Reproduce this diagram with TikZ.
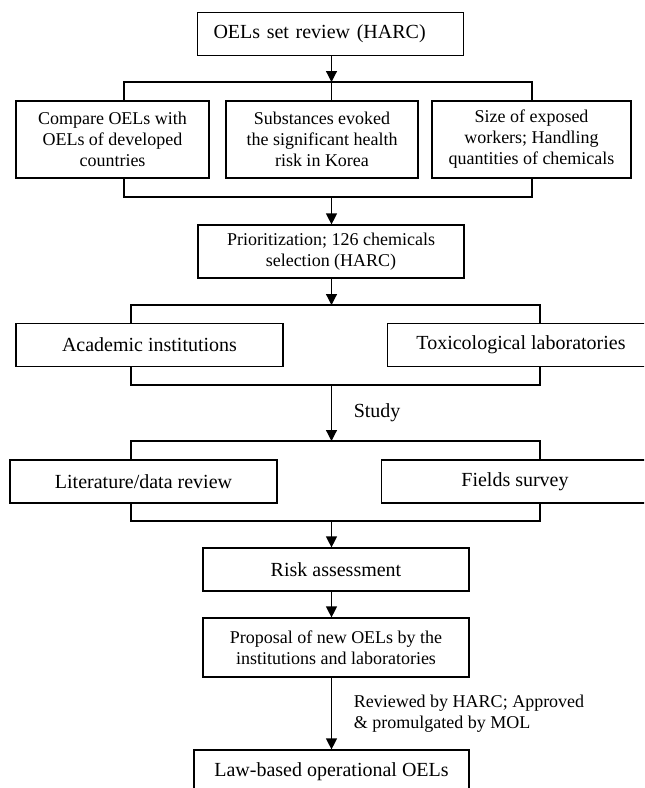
\documentclass[tikz,border=0pt]{standalone}
\usepackage{fontspec}
\setmainfont{Liberation Serif}
\usetikzlibrary{arrows.meta}

\begin{document}
\begin{tikzpicture}[x=0.5pt,y=-0.5pt,line width=0.6pt,font=\fontsize{10}{10.5}\selectfont,
blk/.style n args={2}{draw,rectangle,align=center,inner sep=0pt,minimum width=#1*0.5pt,minimum height=#2*0.5pt},
sml/.style={font=\fontsize{9}{10.5}\selectfont},
arr/.style={-{Triangle[length=5.5pt,width=5.5pt]}}]
\useasboundingbox (0,0) rectangle (644,788);
\clip (0,0) rectangle (644,788);
\node[blk={266}{43},text width=117pt,align=left,inner xsep=8pt] (review) at (330.5,34) {OELs set review (HARC)};
\node[blk={193}{77},sml] (compare) at (112.5,139.5) {Compare OELs with\\OELs of developed\\countries};
\node[blk={192}{77},sml] (korea) at (322,139.5) {Substances evoked\\the significant health\\risk in Korea};
\node[blk={199}{77},sml] (size) at (531.5,139.5) {Size of exposed\\workers; Handling\\quantities of chemicals};
\node[blk={266}{53},sml] (prio) at (331,251.5) {Prioritization; 126 chemicals\\selection (HARC)};
\node[blk={267}{43}] (acad) at (149.5,345) {Academic institutions};
\node[blk={267}{43}] (tox) at (521,345) {Toxicological laboratories};
\node[blk={267}{43}] (lit) at (143.5,481.5) {Literature/data review};
\node[blk={267}{43}] (field) at (515,481.5) {Fields survey};
\node[blk={266}{43}] (risk) at (336,569.5) {Risk assessment};
\node[blk={266}{59},sml] (prop) at (336,647.5) {Proposal of new OELs by the\\institutions and laboratories};
\node[blk={275}{43}] (law) at (331.5,771.5) {Law-based operational OELs};
\coordinate (spine) at (331.5,0);
\foreach \n/\xa/\xb/\y in %
{a/124/532/82,b/124/532/197,c/131/540/305,d/131/540/385,e/131/540/441,f/131/540/521} {
   \coordinate (\n l) at (\xa,\y);
   \coordinate (\n r) at (\xb,\y);
}
\draw[arr] (spine |- review.south) -- (spine |- al);
\draw (al |- compare.north) |- (ar) -- (ar |- size.north);
\draw (spine |- al) -- (spine |- korea.north);
\draw (bl |- compare.south) |- (br) -- (br |- size.south);
\draw[arr] (spine |- bl) -- (spine |- prio.north);
\draw[arr] (spine |- prio.south) -- (spine |- cl);
\draw (cl |- acad.north) |- (cr) -- (cr |- tox.north);
\draw (dl |- acad.south) |- (dr) -- (dr |- tox.south);
\draw[arr] (spine |- dl) -- node[right=7.5pt] (study) {Study} (spine |- el);
\draw (el |- lit.north) |- (er) -- (er |- field.north);
\draw (fl |- lit.south) |- (fr) -- (fr |- field.south);
\draw[arr] (spine |- fl) -- (spine |- risk.north);
\draw[arr] (spine |- risk.south) -- (spine |- prop.north);
\draw[arr] (spine |- prop.south) -- node[right=7.5pt,align=left,sml] (approve) {Reviewed by HARC; Approved\\\& promulgated by MOL} (spine |- law.north);
\end{tikzpicture}
\end{document}
